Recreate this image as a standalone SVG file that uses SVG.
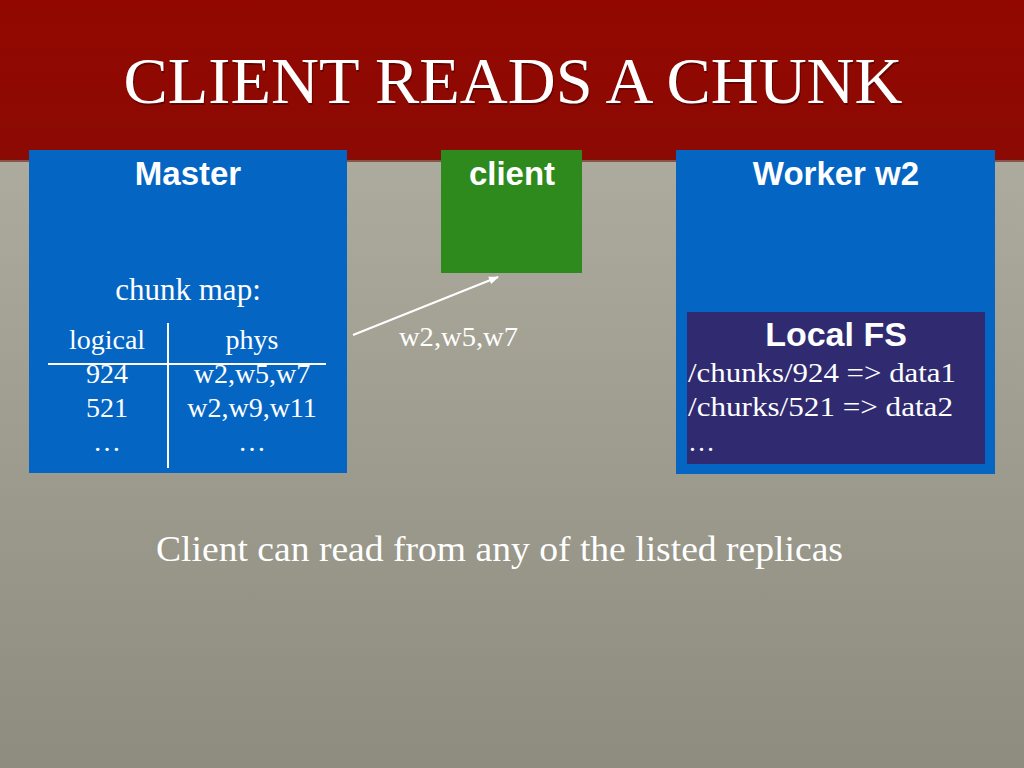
<svg xmlns="http://www.w3.org/2000/svg" width="1024" height="768" viewBox="0 0 1024 768">
<defs>
<linearGradient id="bg" x1="0" y1="0" x2="0" y2="1">
<stop offset="0" stop-color="#b4b3a6"/>
<stop offset="1" stop-color="#8d8c7e"/>
</linearGradient>
<linearGradient id="hdr" x1="0" y1="0" x2="0" y2="1">
<stop offset="0" stop-color="#920800"/>
<stop offset="1" stop-color="#8c0a04"/>
</linearGradient>
<marker id="arr" viewBox="0 0 10 10" refX="9" refY="5" markerWidth="5" markerHeight="5" orient="auto" markerUnits="strokeWidth">
<path d="M0,1 L10,5 L0,9 z" fill="#ffffff"/>
</marker>
<style>
.hd{font-family:"Liberation Sans",Arial,sans-serif;font-weight:bold;fill:#ffffff;text-anchor:middle}
.sf{font-family:"Liberation Serif","Times New Roman",serif;fill:#ffffff}
.mid{text-anchor:middle}
.ln{stroke:#ffffff;stroke-width:2;fill:none}
</style>
</defs>
<rect x="0" y="0" width="1024" height="768" fill="url(#bg)"/>
<rect x="0" y="0" width="1024" height="160" fill="url(#hdr)"/>
<rect x="0" y="159" width="1024" height="3" fill="#6e1a10" opacity="0.6"/>
<g id="title">
<text x="514" y="105" font-family="'Liberation Serif','Times New Roman',serif" font-size="66" fill="#3a0000" opacity="0.5" text-anchor="middle" textLength="779" lengthAdjust="spacingAndGlyphs">CLIENT READS A CHUNK</text>
<text x="513" y="103" font-family="'Liberation Serif','Times New Roman',serif" font-size="66" fill="#ffffff" text-anchor="middle" textLength="779" lengthAdjust="spacingAndGlyphs">CLIENT READS A CHUNK</text>
</g>
<g id="master">
<rect x="29" y="150" width="318" height="323" fill="#0565c3"/>
<text class="hd" x="188" y="185" font-size="33">Master</text>
<text class="sf mid" x="188" y="300" font-size="31">chunk map:</text>
<line class="ln" x1="168" y1="323" x2="168" y2="468"/>
<line class="ln" x1="48" y1="364" x2="326" y2="364"/>
<text class="sf mid" x="107" y="349" font-size="28">logical</text>
<text class="sf mid" x="252" y="349" font-size="28">phys</text>
<text class="sf mid" x="107" y="383" font-size="28">924</text>
<text class="sf mid" x="252" y="383" font-size="28">w2,w5,w7</text>
<text class="sf mid" x="107" y="417" font-size="28">521</text>
<text class="sf mid" x="252" y="417" font-size="28">w2,w9,w11</text>
<text class="sf mid" x="107" y="451" font-size="28">…</text>
<text class="sf mid" x="252" y="451" font-size="28">…</text>
</g>
<g id="client">
<rect x="441" y="150" width="141" height="123" fill="#2f8a1e"/>
<text class="hd" x="512" y="185" font-size="33">client</text>
</g>
<g id="worker">
<rect x="676" y="150" width="319" height="324" fill="#0565c3"/>
<text class="hd" x="836" y="185" font-size="33">Worker w2</text>
</g>
<g id="localfs">
<rect x="687" y="312" width="298" height="152" fill="#302b70"/>
<text class="hd" x="836" y="346" font-size="34">Local FS</text>
<text class="sf" x="688" y="382" font-size="28" textLength="268" lengthAdjust="spacingAndGlyphs">/chunks/924 =&gt; data1</text>
<text class="sf" x="688" y="416" font-size="28" textLength="265" lengthAdjust="spacingAndGlyphs">/churks/521 =&gt; data2</text>
<text class="sf" x="688" y="451" font-size="27">…</text>
</g>
<g id="connectors">
<line class="ln" x1="353" y1="335" x2="498" y2="277" marker-end="url(#arr)"/>
</g>
<text id="edge-label" class="sf" x="399" y="346" font-size="28" fill="#f2f2ec" textLength="119" lengthAdjust="spacingAndGlyphs">w2,w5,w7</text>
<text id="caption" class="sf" x="156" y="561" font-size="35" textLength="687" lengthAdjust="spacingAndGlyphs">Client can read from any of the listed replicas</text>
</svg>
